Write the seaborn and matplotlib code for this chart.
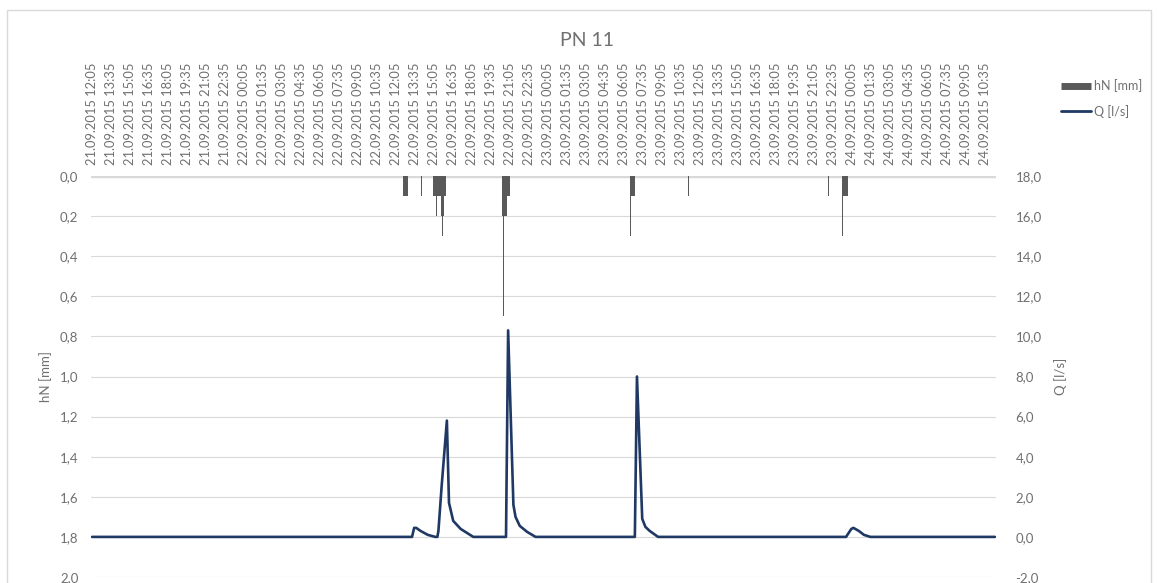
import pandas as pd
import seaborn as sns
import matplotlib.pyplot as plt
from matplotlib.lines import Line2D
from matplotlib.patches import Rectangle

# 5 minute records starting 21.09.2015 12:05, a label every 1.5 h
start = "2015-09-21 12:05"
n_steps = 856
label_every = 18

# rainfall hN [mm] per step (only the non-zero steps)
rain_idx = [295, 296, 297, 298, 299,
            312,
            323, 324, 325, 326, 327, 328, 329, 330, 331, 332, 333, 334, 335,
            389, 390, 391, 392, 393, 394, 395,
            510, 511, 512, 513, 514,
            565,
            697,
            711, 712, 713, 714, 715]
rain_mm = [0.1, 0.1, 0.1, 0.1, 0.1,
           0.1,
           0.1, 0.1, 0.1, 0.2, 0.1, 0.1, 0.1, 0.1, 0.2, 0.3, 0.2, 0.1, 0.1,
           0.2, 0.7, 0.2, 0.2, 0.1, 0.1, 0.1,
           0.3, 0.1, 0.1, 0.1, 0.1,
           0.1,
           0.1,
           0.3, 0.1, 0.1, 0.1, 0.1]

# discharge Q [l/s], hydrograph vertices (step, value)
q_idx = [0,
         303, 305, 307, 311, 318, 325,
         327, 328, 331, 336, 338, 342, 349, 358, 361,
         392, 394, 399, 401, 405, 412, 420,
         514, 516, 521, 524, 528, 536,
         714, 719, 721, 726, 731, 737,
         855]
q_val = [0.0,
         0.0, 0.45, 0.45, 0.3, 0.1, 0.0,
         0.0, 0.3, 2.5, 5.8, 1.7, 0.8, 0.4, 0.1, 0.0,
         0.0, 10.3, 1.6, 1.0, 0.55, 0.25, 0.0,
         0.0, 8.0, 0.9, 0.5, 0.3, 0.0,
         0.0, 0.4, 0.45, 0.3, 0.1, 0.0,
         0.0]

hn_ticks = [0.0, 0.2, 0.4, 0.6, 0.8, 1.0, 1.2, 1.4, 1.6, 1.8, 2.0]
q_ticks = [-2, 0, 2, 4, 6, 8, 10, 12, 14, 16, 18]

sns.set_style("white")
plt.rcParams['font.family'] = ['Lato', 'DejaVu Sans']

txt = "#707070"
grid = "#d9d9d9"
bar_c = "#595959"
line_c = "#1f3864"

fig = plt.figure(figsize=(11.59, 5.83), dpi=100)
fig.patches.append(Rectangle((7 / 1159, -0.01), 1144 / 1159, 1 - 10 / 583 + 0.01,
                             transform=fig.transFigure, fill=False,
                             edgecolor=grid, lw=1))
ax = fig.add_axes([91 / 1159, 6 / 583, 905 / 1159, 401 / 583])

for v in hn_ticks[1:]:
    ax.axhline(v, color=grid, lw=0.8, zorder=0)
ax.axhline(0.0, color=grid, lw=2.5, zorder=1)

rain_df = pd.DataFrame({"step": rain_idx, "hN": rain_mm})
sns.barplot(data=rain_df, x="step", y="hN", native_scale=True, color=bar_c,
            saturation=1, width=1.0, errorbar=None, ax=ax,
            linewidth=0, edgecolor="none", zorder=3)

ax.set_xlim(-1, n_steps)
ax.set_ylim(2.0, 0.0)
ax.set_yticks(hn_ticks)
ax.set_yticklabels([f"{v:.1f}".replace(".", ",") for v in hn_ticks])

times = pd.date_range(start, periods=n_steps, freq="5min")
tick_pos = list(range(0, n_steps, label_every))
ax.xaxis.tick_top()
ax.set_xticks(tick_pos)
ax.set_xticklabels([times[i].strftime("%d.%m.%Y %H:%M") for i in tick_pos],
                   rotation=90)
ax.tick_params(axis="x", length=0, pad=8, labelsize=9.3, labelcolor=txt)
ax.tick_params(axis="y", length=0, pad=9, labelsize=9.5, labelcolor=txt)
ax.set_xlabel("")
ax.set_ylabel("hN [mm]", color=txt, fontsize=9.5, labelpad=6)
for s in ax.spines.values():
    s.set_visible(False)

ax2 = ax.twinx()
sns.lineplot(x=q_idx, y=q_val, ax=ax2, color=line_c, lw=1.9)
ax2.set_ylim(-2, 18)
ax2.set_yticks(q_ticks)
ax2.set_yticklabels([f"{v:.1f}".replace(".", ",") for v in q_ticks])
ax2.tick_params(axis="y", length=0, pad=14, labelsize=9.5, labelcolor=txt)
ax2.set_ylabel("Q [l/s]", color=txt, fontsize=9.5, rotation=90, labelpad=9)
ax2.set_xlim(-1, n_steps)
for s in ax2.spines.values():
    s.set_visible(False)

fig.text(587 / 1159, 1 - 40 / 583, "PN 11", ha="center", va="center",
         fontsize=14, color=txt)

handles = [Line2D([], [], color=bar_c, lw=5, solid_capstyle="butt"),
           Line2D([], [], color=line_c, lw=2)]
fig.legend(handles, ["hN [mm]", "Q [l/s]"], loc="upper left",
           bbox_to_anchor=(1050 / 1159, 1 - 68 / 583), frameon=False,
           fontsize=9, labelcolor=txt, handlelength=2.4, handletextpad=0.2,
           labelspacing=1.0)

fig.savefig("out.png", dpi=100)
